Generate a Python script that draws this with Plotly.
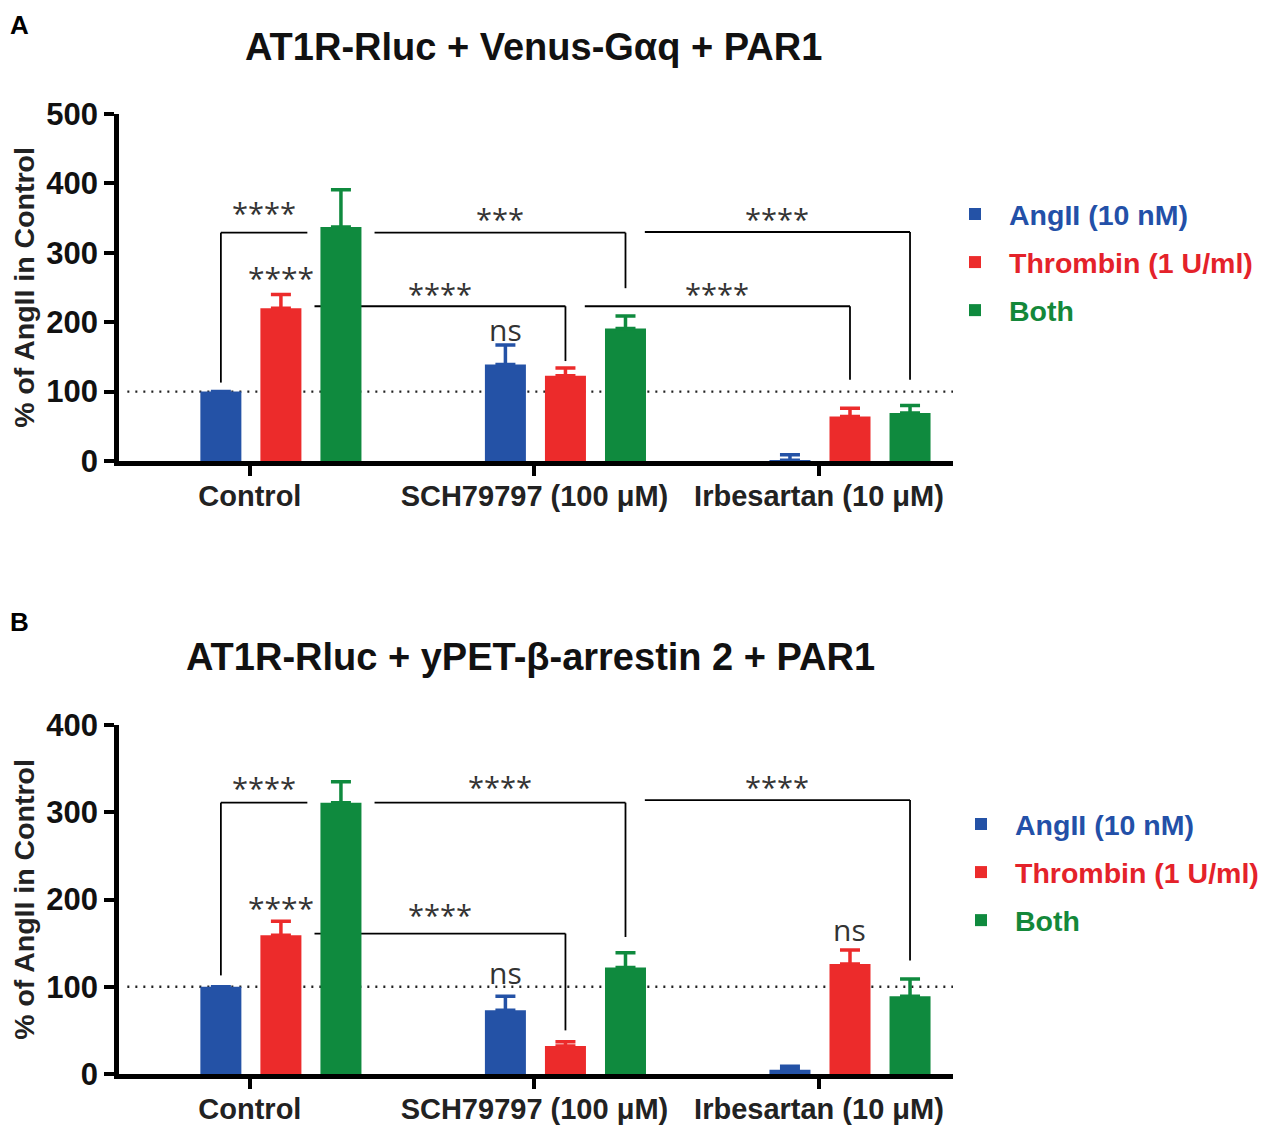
import plotly.graph_objects as go

# ---------------- data ----------------
categories = ["Control", "SCH79797 (100 μM)", "Irbesartan (10 μM)"]
series_names = ["AngII (10 nM)", "Thrombin (1 U/ml)", "Both"]

# Panel A: AT1R-Rluc + Venus-Gaq + PAR1
a_angii = [100, 139, 1]
a_angii_err = [0, 28, 8]
a_thrombin = [220, 123, 64]
a_thrombin_err = [20, 11, 12]
a_both = [337, 191, 69]
a_both_err = [54, 18, 11]

# Panel B: AT1R-Rluc + yPET-b-arrestin 2 + PAR1
b_angii = [100, 73, 5]
b_angii_err = [0, 16, 4]
b_thrombin = [159, 32, 126]
b_thrombin_err = [16, 5, 16]
b_both = [311, 122, 89]
b_both_err = [24, 17, 20]

# significance brackets: (group, series) -> (group, series), bar height, leg bottoms, label, label height
a_br_from = [(0, 0), (0, 2), (0, 1), (1, 2), (1, 1)]
a_br_to = [(0, 2), (1, 2), (1, 1), (2, 2), (2, 1)]
a_br_y = [329, 329, 223, 330, 223]
a_br_leg_from = [113, None, None, None, None]
a_br_leg_to = [None, 249, 144, 117, 117]
a_br_label = ["****", "***", "****", "****", "****"]
a_br_label_y = [358, 350, 242, 350, 242]
a_bar_labels = [((0, 1), "****", 264), ((1, 0), "ns", 190)]

b_br_from = [(0, 0), (0, 2), (0, 1), (1, 2)]
b_br_to = [(0, 2), (1, 2), (1, 1), (2, 2)]
b_br_y = [311, 311, 161, 314]
b_br_leg_from = [113, None, None, None]
b_br_leg_to = [None, 157, 50, 130]
b_br_label = ["****", "****", "****", "****"]
b_br_label_y = [328, 329, 183, 330]
b_bar_labels = [((0, 1), "****", 191), ((1, 0), "ns", 116), ((2, 1), "ns", 166)]

# ---------------- style ----------------
COLORS = ["#2452A6", "#EC2B2B", "#0F8A3E"]
TEXT_COLORS = ["#2350A8", "#E4222A", "#14883A"]
BARGAP = 0.367
BARGROUPGAP = 0.317
SLOT = (1 - BARGAP) / 3
HALF_W = SLOT * (1 - BARGROUPGAP) / 2
PAD_EDGE = 0.046
PAD_CENTER = 0.068
TICK_SHIFT = -0.109
XRANGE = [-0.569, 2.362]
BOLD = "Liberation Sans, Arial, sans-serif"
STAR_FONT = "Open Sans, DejaVu Sans, sans-serif"

PAGE_OFF = 8  # default page margin of the html body
W, H = 1283 - PAGE_OFF, 1137 - PAGE_OFF


def px(x):
    return (x - PAGE_OFF) / W


def py(y):
    return 1 - (y - PAGE_OFF) / H


XDOM = [px(119), px(953)]
YDOM_A = [py(461), py(114)]
YDOM_B = [py(1074), py(725)]

fig = go.Figure()


def add_bars(vals, errs, xa, ya, legend):
    for s in range(3):
        fig.add_trace(go.Bar(
            x=list(range(len(categories))), y=vals[s],
            name=f"<span style='color:{TEXT_COLORS[s]}'><b>{series_names[s]}</b></span>",
            marker=dict(color=COLORS[s], line=dict(width=0)),
            error_y=dict(type="data", array=errs[s], arrayminus=[0] * len(errs[s]),
                         symmetric=False, color=COLORS[s], thickness=3.5, width=10),
            xaxis=xa, yaxis=ya, legend=legend, legendgroup=f"{legend}{s}",
            offsetgroup=str(s),
        ))


def xc(g, s):
    return g + (s - 1) * SLOT


def add_brackets(vals, errs, frm, to, ys, leg1s, leg2s, labels, label_ys, bar_labels, xref, yref):
    line = dict(color="black", width=1.8)
    for (g1, s1), (g2, s2), y, l1, l2, lab, ly in zip(frm, to, ys, leg1s, leg2s, labels, label_ys):
        x1, x2 = xc(g1, s1), xc(g2, s2)
        top1 = vals[s1][g1] + errs[s1][g1]
        top2 = vals[s2][g2] + errs[s2][g2]
        if l1 is not None:
            xs = x1
            fig.add_shape(type="line", xref=xref, yref=yref, x0=x1, x1=x1, y0=l1, y1=y,
                          line=line, layer="below")
        else:
            xs = x1 + (HALF_W + PAD_EDGE if top1 >= y else PAD_CENTER)
        if l2 is not None:
            xe = x2
            fig.add_shape(type="line", xref=xref, yref=yref, x0=x2, x1=x2, y0=l2, y1=y,
                          line=line, layer="below")
        else:
            xe = x2 - (HALF_W + PAD_EDGE if top2 >= y else PAD_CENTER)
        fig.add_shape(type="line", xref=xref, yref=yref, x0=xs, x1=xe, y0=y, y1=y,
                      line=line, layer="below")
        fig.add_annotation(x=(xs + xe) / 2, y=ly, xref=xref, yref=yref, text=lab,
                           showarrow=False, yanchor="middle",
                           font=dict(family=STAR_FONT, size=29, color="#333333"))
    for (g, s), lab, ly in bar_labels:
        fig.add_annotation(x=xc(g, s), y=ly, xref=xref, yref=yref, text=lab,
                           showarrow=False, yanchor="middle",
                           font=dict(family=STAR_FONT, size=30, color="#333333"))
    # reference line at 100 %
    fig.add_shape(type="line", xref=xref + " domain", yref=yref, x0=0.01, x1=1, y0=100, y1=100,
                  line=dict(color="#222222", width=2.4, dash="2px,6px"), layer="below")


add_bars([a_angii, a_thrombin, a_both], [a_angii_err, a_thrombin_err, a_both_err], "x", "y", "legend")
add_bars([b_angii, b_thrombin, b_both], [b_angii_err, b_thrombin_err, b_both_err], "x2", "y2", "legend2")

add_brackets([a_angii, a_thrombin, a_both], [a_angii_err, a_thrombin_err, a_both_err],
             a_br_from, a_br_to, a_br_y, a_br_leg_from, a_br_leg_to, a_br_label, a_br_label_y,
             a_bar_labels, "x", "y")
add_brackets([b_angii, b_thrombin, b_both], [b_angii_err, b_thrombin_err, b_both_err],
             b_br_from, b_br_to, b_br_y, b_br_leg_from, b_br_leg_to, b_br_label, b_br_label_y,
             b_bar_labels, "x2", "y2")

xaxis_common = dict(
    range=XRANGE, domain=XDOM, showgrid=False, zeroline=False, automargin=False,
    showline=True, linewidth=4.5, linecolor="black",
    ticks="outside", ticklen=10, tickwidth=4, tickcolor="black", ticklabelstandoff=-5,
    tickmode="array", tickvals=[i + TICK_SHIFT for i in range(len(categories))],
    ticktext=categories,
    tickfont=dict(family=BOLD, size=29, color="#222222", weight="bold"),
    fixedrange=True,
)
yaxis_common = dict(
    showgrid=False, zeroline=False, showline=True, linewidth=4.5, linecolor="black",
    automargin=False,
    ticks="outside", ticklen=10, tickwidth=4, tickcolor="black", dtick=100,
    tickfont=dict(family=BOLD, size=31, color="#111111", weight="bold"),
    title=dict(text="% of AngII in Control", standoff=22,
               font=dict(family=BOLD, size=28.5, color="#222222", weight="bold")),
    fixedrange=True,
)

fig.update_layout(
    template="none",
    width=W, height=H,
    margin=dict(l=0, r=0, t=0, b=0, autoexpand=False),
    paper_bgcolor="white", plot_bgcolor="white",
    barmode="group", bargap=BARGAP, bargroupgap=BARGROUPGAP,
    xaxis=dict(**xaxis_common, anchor="y"),
    yaxis=dict(**yaxis_common, domain=YDOM_A, range=[0, 500], anchor="x"),
    xaxis2=dict(**xaxis_common, anchor="y2"),
    yaxis2=dict(**yaxis_common, domain=YDOM_B, range=[0, 400], anchor="x2"),
    legend=dict(x=px(941), y=py(189), xanchor="left", yanchor="top",
                font=dict(family=BOLD, size=28.5), itemwidth=58, tracegroupgap=8,
                bgcolor="rgba(0,0,0,0)"),
    legend2=dict(x=px(947), y=py(799), xanchor="left", yanchor="top",
                 font=dict(family=BOLD, size=28.5), itemwidth=58, tracegroupgap=8,
                 bgcolor="rgba(0,0,0,0)"),
    showlegend=True,
)

# titles and panel letters
fig.add_annotation(x=px(533), y=py(47), xref="paper", yref="paper", showarrow=False,
                   xanchor="center", yanchor="middle",
                   text="<b>AT1R-Rluc + Venus-Gαq + PAR1</b>",
                   font=dict(family=BOLD, size=38, color="#111111"))
fig.add_annotation(x=px(530), y=py(657), xref="paper", yref="paper", showarrow=False,
                   xanchor="center", yanchor="middle",
                   text="<b>AT1R-Rluc + yPET-β-arrestin 2 + PAR1</b>",
                   font=dict(family=BOLD, size=38, color="#111111"))
fig.add_annotation(x=0, y=1, xref="paper", yref="paper", showarrow=False,
                   xanchor="left", yanchor="top", text="<b>A</b>",
                   font=dict(family=BOLD, size=26, color="black"))
fig.add_annotation(x=0, y=py(622), xref="paper", yref="paper", showarrow=False,
                   xanchor="left", yanchor="middle", text="<b>B</b>",
                   font=dict(family=BOLD, size=26, color="black"))

fig.write_html("out.html")
